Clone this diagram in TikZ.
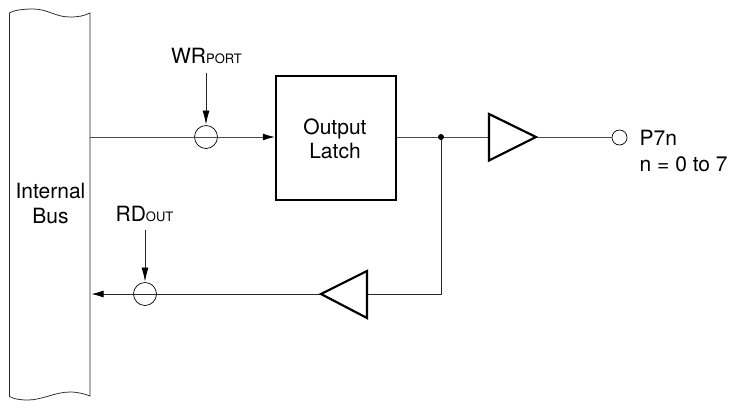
\documentclass[tikz,border=0pt]{standalone}
\usepackage{fontspec}
\setmainfont{TeX Gyre Heros}
\usetikzlibrary{arrows.meta}
\tikzset{
 thinline/.style={line width=1pt,draw=black!70},
 fineline/.style={line width=0.75pt,draw=black!85},
 thickbox/.style={line width=2.2pt,draw=black},
 sw/.style={circle,draw=black,line width=0.7pt,minimum size=23pt,inner sep=0pt,fill=none},
 sig/.style={thinline,-{Latex[length=12pt,width=7pt,black]}},
 ctl/.style={fineline,-{Latex[length=14pt,width=7pt,black]}},
 lbl/.style={font=\fontsize{21}{24}\selectfont,inner sep=0pt,align=center},
 port/.style={circle,draw=black,line width=0.7pt,minimum size=15pt,inner sep=0pt,fill=white},
 dotn/.style={circle,fill=black,minimum size=6pt,inner sep=0pt},
}
\newcommand{\subtxt}[1]{{\fontsize{13}{15}\selectfont #1}}
\begin{document}
\begin{tikzpicture}[x=1pt,y=-1pt]
\useasboundingbox (0,0) rectangle (730,400);
% bus
\draw[fineline] (90,13) .. controls (84,16) and (78,17) .. (70,17) .. controls (55,17) and (48,9) .. (33,9) .. controls (24,9) and (14,10) .. (9.5,13) -- (9.5,396.5) .. controls (14,399) and (20,400) .. (28,400) .. controls (42,400) and (55,392) .. (70,392) .. controls (78,392) and (85,394) .. (90,396) -- cycle;
\coordinate (busA) at (90,137);
\coordinate (busB) at (91.5,294);
\node[lbl,anchor=base] (busl1) at (50.5,198) {Internal};
\node[lbl,anchor=base] (busl2) at (50.5,223) {Bus};
% blocks
\node[thickbox,draw,minimum width=120pt,minimum height=124pt,inner sep=0pt] (latch) at (336,138) {};
\node[lbl,anchor=base] (l1) at (335,134) {Output};
\node[lbl,anchor=base] (l2) at (335,158) {Latch};
\node[sw] (s1) at (206,137) {};
\node[sw] (s2) at (145,294) {};
\node[dotn] (d) at (441,137) {};
\coordinate (t1a) at (489,114); \coordinate (t1b) at (489,160.5); \coordinate (t1c) at (536,137);
\coordinate (t2a) at (367,271); \coordinate (t2b) at (367,318); \coordinate (t2c) at (321,294);
\coordinate (corner) at (441,294);
% connectors
\draw[thinline] (busA) -- (s1.center);
\draw[sig] (s1.center) -- (latch.west |- s1.center);
\draw[thinline] (latch.east |- d) -- (d);
\draw[thinline] (d) -- (t1a |- d);
\draw[thinline] (t1c) -- (612,137);
\node[port] (p) at (619.5,137.5) {};
\draw[fineline] (d) -- (corner) -- (t2a |- corner);
\draw[fineline] (t2c) -- (s2.center);
\draw[sig,fineline] (s2.center) -- (busB);
\draw[thickbox,line join=miter] (t1a) -- (t1c) -- (t1b) -- cycle;
\draw[thickbox,line join=miter] (t2a) -- (t2c) -- (t2b) -- cycle;
% labels
\node[lbl,anchor=base] (wr) at (206.5,63) {WR\subtxt{PORT}};
\node[lbl,anchor=base] (rd) at (144.5,221) {RD\subtxt{OUT}};
\coordinate (wrs) at (206,73);
\coordinate (rds) at (145,230);
\draw[ctl] (wrs) -- (206,124.5);
\draw[ctl] (rds) -- (145,281.5);
\node[lbl,anchor=base west] (pl) at (639.5,145.5) {P7n};
\node[lbl,anchor=base west] (nl) at (639.5,171.5) {n = 0 to 7};
\end{tikzpicture}
\end{document}
